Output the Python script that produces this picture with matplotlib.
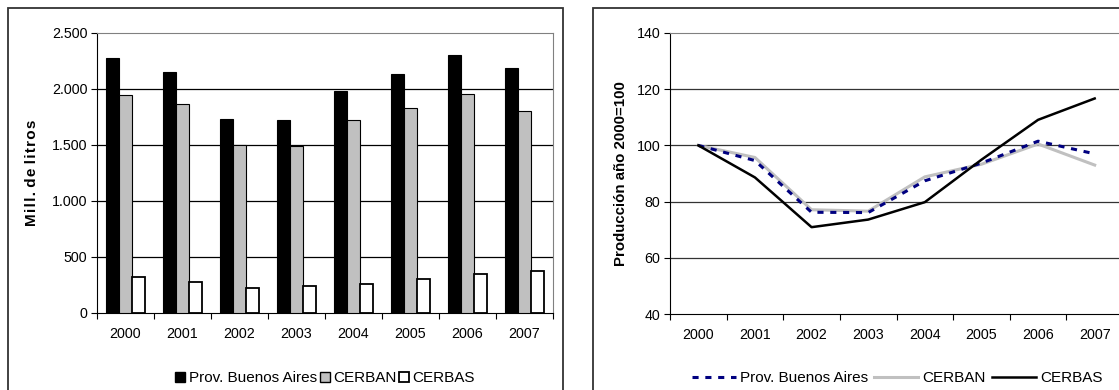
import numpy as np
import matplotlib
matplotlib.use("Agg")
import matplotlib.pyplot as plt
from matplotlib.patches import Rectangle
from matplotlib.lines import Line2D

plt.rcParams['font.family'] = ['Liberation Sans', 'DejaVu Sans']

years = ["2000", "2001", "2002", "2003", "2004", "2005", "2006", "2007"]
prov_ba = [2273, 2154, 1733, 1721, 1984, 2133, 2306, 2187]
cerban = [1945, 1862, 1504, 1495, 1721, 1829, 1957, 1808]
cerbas = [325, 280, 227, 239, 257, 304, 346, 379]

idx_prov = [100, 94.6, 76.2, 76.1, 87.4, 93.7, 101.5, 97.0]
idx_cerban = [100, 95.7, 77.1, 76.6, 88.8, 93.3, 100.5, 93.0]
idx_cerbas = [100, 88.6, 70.9, 73.6, 79.8, 94.9, 109.1, 116.7]

left_ticks = [0, 500, 1000, 1500, 2000, 2500]
left_ticklabels = ["0", "500", "1.000", "1.500", "2.000", "2.500"]
right_ticks = [40, 60, 80, 100, 120, 140]
legend_labels = ["Prov. Buenos Aires", "CERBAN", "CERBAS"]

W, H = 1119, 390
fig = plt.figure(figsize=(W / 100, H / 100), dpi=100)
fig.patch.set_facecolor("white")


def px_axes(l, t, r, b):
    return fig.add_axes([l / W, (H - b) / H, (r - l) / W, (b - t) / H])


# panel frames
for (x0, x1) in [(8, 563), (593, 1130)]:
    fig.add_artist(Rectangle((x0 / W, -10 / H), (x1 - x0) / W, (H - 8 + 10) / H,
                             transform=fig.transFigure, fill=False,
                             edgecolor="#333333", lw=1.3))

# ---------------- left bar chart ----------------
ax1 = px_axes(97, 33, 553, 313)
x = np.arange(len(years))
bw = 0.228
ax1.bar(x - bw, prov_ba, bw, color="black", edgecolor="black", lw=0.8, zorder=3)
ax1.bar(x, cerban, bw, color="#c0c0c0", edgecolor="black", lw=0.8, zorder=3)
ax1.bar(x + bw, cerbas, bw, color="white", edgecolor="black", lw=1.3, zorder=3)
ax1.set_xlim(-0.5, 7.5)
ax1.set_ylim(0, 2500)
ax1.set_yticks(left_ticks)
ax1.set_yticklabels(left_ticklabels)
for v in left_ticks[1:-1]:
    ax1.axhline(v, color="black", lw=0.9, zorder=1)
ax1.set_xticks(np.arange(-0.5, 8, 1), minor=False)
ax1.set_xticklabels([])
ax1.set_xticks(x, minor=True)
ax1.set_xticklabels(years, minor=True)
ax1.tick_params(axis="x", which="major", length=4, direction="out", width=0.8)
ax1.tick_params(axis="x", which="minor", length=0, pad=10, labelsize=10.3)
ax1.tick_params(axis="y", length=4, direction="out", width=0.8, labelsize=10.3, pad=3)
ax1.spines["left"].set_color("black")
ax1.spines["bottom"].set_color("black")
ax1.spines["top"].set_color("#808080")
ax1.spines["right"].set_color("#808080")
hs = "\u200a"
ylab = " ".join(hs.join(w) for w in ["Mill.", "de", "litros"])
ax1.set_ylabel(ylab, fontsize=11, fontweight="bold", labelpad=9,
               family=["Liberation Sans", "DejaVu Sans"])

handles1 = [
    Line2D([], [], marker="s", ls="none", markersize=7.5, markerfacecolor="black", markeredgecolor="black"),
    Line2D([], [], marker="s", ls="none", markersize=7.5, markerfacecolor="#c0c0c0", markeredgecolor="black"),
    Line2D([], [], marker="s", ls="none", markersize=7.5, markerfacecolor="white", markeredgecolor="black", markeredgewidth=1.3),
]
fig.legend(handles1, legend_labels, loc="center",
           bbox_to_anchor=(325 / W, (H - 378) / H), ncol=3, frameon=False,
           fontsize=11, handlelength=0.7, handletextpad=0.2, columnspacing=0.15,
           borderpad=0)

# ---------------- right line chart ----------------
ax2 = px_axes(670, 33, 1123, 314)
ax2.plot(x, idx_cerban, color="#c0c0c0", lw=2.2, zorder=3)
ax2.plot(x, idx_prov, color="#000080", lw=2.2, ls=(0, (2, 2.2)), zorder=4)
ax2.plot(x, idx_cerbas, color="black", lw=1.8, zorder=5)
ax2.set_xlim(-0.5, 7.5)
ax2.set_ylim(40, 140)
ax2.set_yticks(right_ticks)
for v in right_ticks[1:-1]:
    ax2.axhline(v, color="#333333", lw=0.9, zorder=1)
ax2.set_xticks(np.arange(-0.5, 8, 1), minor=False)
ax2.set_xticklabels([])
ax2.set_xticks(x, minor=True)
ax2.set_xticklabels(years, minor=True)
ax2.tick_params(axis="x", which="major", length=4, direction="out", width=0.8)
ax2.tick_params(axis="x", which="minor", length=0, pad=10, labelsize=10.3)
ax2.tick_params(axis="y", length=4, direction="out", width=0.8, labelsize=10.3, pad=3)
ax2.spines["top"].set_color("#808080")
ax2.spines["right"].set_visible(False)
ax2.set_ylabel("Producción año 2000=100", fontsize=10.8, fontweight="bold", labelpad=6)

handles2 = [
    Line2D([], [], color="#000080", lw=2.2, ls=(0, (2, 2.2))),
    Line2D([], [], color="#c0c0c0", lw=2.2),
    Line2D([], [], color="black", lw=1.8),
]
fig.legend(handles2, legend_labels, loc="center",
           bbox_to_anchor=(897 / W, (H - 378) / H), ncol=3, frameon=False,
           fontsize=11, handlelength=2.9, handletextpad=0.25, columnspacing=0.4,
           borderpad=0)

fig.savefig("out.png", dpi=100)
